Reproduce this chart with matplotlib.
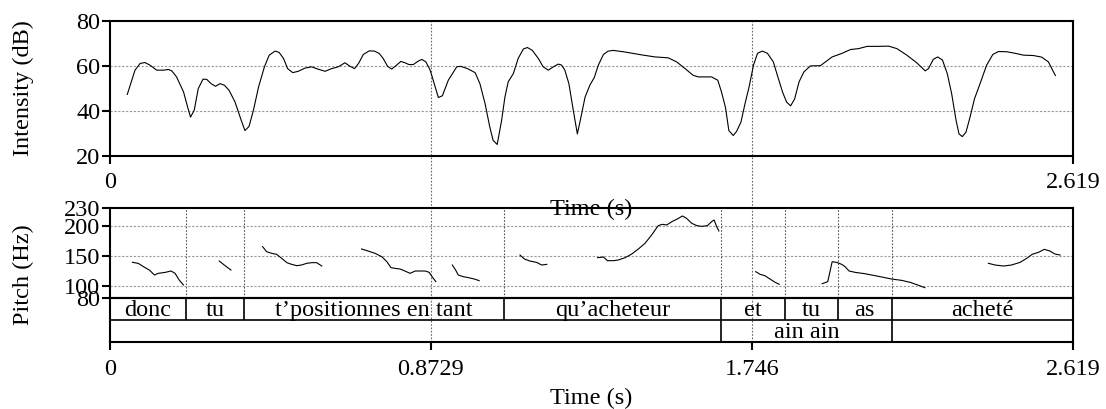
import matplotlib
matplotlib.use("Agg")
import matplotlib.pyplot as plt

W, H = 1106, 409

# intensity contour (s, dB)
intensity_time = [0.047, 0.068, 0.082, 0.095, 0.109, 0.127, 0.145, 0.159, 0.168, 0.181,
                  0.200, 0.211, 0.219, 0.229, 0.240, 0.253, 0.263, 0.275, 0.287, 0.299,
                  0.311, 0.324, 0.340, 0.357, 0.367, 0.378, 0.390, 0.404, 0.420, 0.433,
                  0.449, 0.460, 0.472, 0.483, 0.497, 0.512, 0.530, 0.548, 0.567, 0.585,
                  0.603, 0.621, 0.639, 0.653, 0.665, 0.676, 0.689, 0.705, 0.719, 0.732,
                  0.743, 0.755, 0.766, 0.777, 0.791, 0.802, 0.813, 0.825, 0.837, 0.848,
                  0.859, 0.870, 0.875, 0.893, 0.904, 0.920, 0.943, 0.954, 0.972, 0.993,
                  1.006, 1.020, 1.033, 1.042, 1.053, 1.065, 1.074, 1.083, 1.097, 1.110,
                  1.124, 1.135, 1.148, 1.165, 1.178, 1.192, 1.206, 1.219, 1.228, 1.237,
                  1.248, 1.260, 1.271, 1.280, 1.292, 1.305, 1.317, 1.328, 1.342, 1.355,
                  1.369, 1.400, 1.446, 1.482, 1.518, 1.541, 1.564, 1.586, 1.600, 1.618,
                  1.636, 1.653, 1.663, 1.674, 1.683, 1.695, 1.704, 1.716, 1.727, 1.738,
                  1.750, 1.761, 1.774, 1.788, 1.804, 1.815, 1.829, 1.840, 1.851, 1.862,
                  1.874, 1.887, 1.905, 1.932, 1.964, 1.991, 2.014, 2.036, 2.059, 2.087,
                  2.118, 2.140, 2.167, 2.194, 2.217, 2.226, 2.239, 2.251, 2.264, 2.277,
                  2.289, 2.301, 2.309, 2.318, 2.328, 2.339, 2.351, 2.368, 2.384, 2.401,
                  2.416, 2.439, 2.462, 2.484, 2.512, 2.534, 2.552, 2.571]
intensity_db = [47.3, 58.1, 61.1, 61.5, 60.3, 58.1, 58.1, 58.4, 57.8, 55.1,
                48.4, 41.7, 37.2, 40.2, 49.9, 54.1, 54.0, 52.1, 50.9, 52.1,
                51.4, 49.1, 43.9, 35.7, 31.2, 33.0, 40.2, 50.6, 59.6, 64.8,
                66.6, 66.0, 63.3, 58.8, 57.0, 57.6, 59.0, 59.6, 58.5, 57.6,
                58.8, 59.6, 61.4, 59.8, 58.8, 61.1, 65.1, 66.7, 66.6, 65.6,
                63.3, 59.8, 58.6, 60.0, 62.0, 61.4, 60.6, 60.6, 62.0, 62.9,
                61.8, 58.4, 55.8, 45.9, 46.7, 53.6, 59.6, 59.8, 58.8, 57.0,
                52.1, 43.2, 32.7, 26.8, 25.0, 35.7, 46.1, 52.9, 56.6, 63.3,
                67.5, 68.2, 67.0, 63.3, 59.6, 58.1, 59.6, 60.8, 60.4, 58.1,
                52.1, 40.2, 29.7, 36.5, 46.1, 51.4, 54.8, 60.3, 65.1, 66.6,
                66.9, 66.2, 64.9, 64.0, 63.6, 61.8, 58.8, 55.8, 55.1, 55.1,
                55.1, 53.6, 48.4, 41.4, 31.2, 29.0, 30.8, 35.0, 43.2, 50.6,
                60.3, 65.6, 66.6, 65.6, 61.8, 55.8, 48.4, 43.9, 42.2, 45.3,
                52.9, 57.3, 60.0, 60.1, 64.0, 65.6, 67.3, 67.7, 68.7, 68.7,
                68.8, 67.7, 64.8, 61.4, 57.8, 58.8, 62.9, 64.0, 62.6, 56.6,
                47.6, 35.7, 29.7, 28.5, 30.5, 37.2, 45.3, 52.9, 60.3, 65.1,
                66.4, 66.3, 65.6, 64.8, 64.6, 63.9, 61.8, 55.7]

# pitch contour, one list per voiced stretch (s, Hz)
pitch_seg_time = [
    [0.061, 0.077, 0.091, 0.107, 0.121, 0.131, 0.150, 0.166, 0.177, 0.188, 0.200],
    [0.297, 0.313, 0.329],
    [0.415, 0.426, 0.440, 0.453, 0.467, 0.481, 0.494, 0.508, 0.521, 0.535, 0.549, 0.562, 0.576],
    [0.684, 0.702, 0.721, 0.739, 0.753, 0.764, 0.775, 0.789, 0.802, 0.816, 0.830, 0.843,
     0.857, 0.868, 0.877, 0.886],
    [0.931, 0.940, 0.947, 0.961, 0.975, 0.991, 1.004],
    [1.115, 1.127, 1.142, 1.160, 1.174, 1.188],
    [1.326, 1.342, 1.353, 1.369, 1.382, 1.401, 1.419, 1.437, 1.455, 1.473, 1.491, 1.502,
     1.514, 1.528, 1.543, 1.557, 1.568, 1.582, 1.596, 1.609, 1.625, 1.636, 1.643, 1.650, 1.656],
    [1.756, 1.768, 1.781, 1.795, 1.809, 1.820],
    [1.937, 1.952, 1.964, 1.976, 1.990, 1.999, 2.010, 2.026, 2.053, 2.090, 2.126, 2.153,
     2.176, 2.197, 2.216],
    [2.389, 2.407, 2.430, 2.452, 2.475, 2.493, 2.508, 2.525, 2.541, 2.556, 2.570, 2.584],
]
pitch_seg_hz = [
    [139.0, 137.2, 131.7, 126.1, 117.8, 120.6, 122.2, 124.5, 120.6, 109.5, 101.1],
    [141.1, 133.4, 126.1],
    [165.1, 156.7, 153.9, 152.3, 145.6, 138.4, 135.6, 133.4, 134.5, 137.3, 138.4, 138.4, 132.8],
    [161.2, 157.8, 153.9, 148.4, 140.0, 130.1, 128.9, 127.8, 124.5, 120.6, 124.5, 124.5,
     124.5, 122.3, 114.0, 107.0],
    [134.5, 126.1, 117.8, 115.0, 113.4, 111.1, 108.4],
    [151.1, 144.5, 141.1, 138.9, 134.5, 135.6],
    [146.7, 147.8, 141.7, 141.7, 142.8, 146.7, 152.8, 161.2, 170.6, 184.5, 200.1, 202.3,
     201.2, 206.7, 211.2, 216.2, 212.3, 204.0, 200.1, 198.9, 200.1, 206.7, 209.5, 198.4, 191.2],
    [123.4, 119.0, 116.7, 111.1, 105.6, 102.3],
    [103.4, 106.7, 140.0, 138.9, 135.6, 131.7, 124.5, 122.3, 120.0, 115.6, 111.1, 108.9,
     105.6, 101.1, 96.7],
    [137.3, 134.5, 132.8, 134.5, 138.9, 145.6, 152.3, 155.6, 160.6, 157.8, 152.8, 151.1],
]

# text grid
word_bounds = [0, 0.206, 0.365, 1.072, 1.662, 1.836, 1.979, 2.126, 2.619]
word_labels = ["donc", "tu", "t\u2019positionnes en tant", "qu\u2019acheteur",
               "et", "tu", "as", "achet\u00e9"]
tier2_bounds = [0, 1.662, 2.126, 2.619]
tier2_labels = ["", "ain ain", ""]

t_end = 2.619
mid_marks = [0.8729, 1.746]

plt.rcParams["font.family"] = ["Liberation Serif", "DejaVu Serif"]
plt.rcParams["font.size"] = 17.5


def rect(x0, y0, x1, y1):
    return [x0 / W, 1 - y1 / H, (x1 - x0) / W, (y1 - y0) / H]


def style_box(ax):
    ax.set_facecolor("none")
    for s in ax.spines.values():
        s.set_linewidth(1.5)
    ax.tick_params(direction="out", length=6, width=1.5)


fig = plt.figure(figsize=(W / 100, H / 100), dpi=100)

X0, X1 = 110, 1073

# background axis for the long dotted time marks
ax_bg = fig.add_axes(rect(X0, 21, X1, 342.3))
ax_bg.set_xlim(0, t_end)
ax_bg.set_ylim(0, 1)
ax_bg.axis("off")
for m in mid_marks:
    ax_bg.axvline(m, color="#666666", lw=0.8, ls=(0, (1.5, 1.5)))

# intensity panel
ax_int = fig.add_axes(rect(X0, 21, X1, 155.7))
style_box(ax_int)
ax_int.set_xlim(0, t_end)
ax_int.set_ylim(20, 80)
for g in [40, 60]:
    ax_int.axhline(g, color="#999999", lw=0.8, ls=(0, (2, 1.5)))
ax_int.plot(intensity_time, intensity_db, color="black", lw=0.8)
ax_int.set_yticks([20, 40, 60, 80])
ax_int.set_xticks([0, t_end], ["0", "2.619"])
ax_int.tick_params(axis="y", pad=1)
ax_int.tick_params(axis="x", pad=6)
ax_int.set_xlabel("Time (s)", labelpad=4)

# pitch panel
ax_p = fig.add_axes(rect(X0, 207.7, X1, 297.7))
style_box(ax_p)
ax_p.set_xlim(0, t_end)
ax_p.set_ylim(80, 230)
for g in [100, 150, 200]:
    ax_p.axhline(g, color="#999999", lw=0.8, ls=(0, (2, 1.5)))
ax_p.vlines(word_bounds[1:-1], 80, 230, color="#555555", lw=0.8, ls=(0, (1.5, 1.5)))
for ts, hz in zip(pitch_seg_time, pitch_seg_hz):
    ax_p.plot(ts, hz, color="black", lw=0.8)
ax_p.set_yticks([80, 100, 150, 200, 230])
ax_p.set_xticks([])
ax_p.tick_params(axis="y", pad=1)

# text tiers
ax_t = fig.add_axes(rect(X0, 297.7, X1, 342.3))
style_box(ax_t)
ax_t.set_xlim(0, t_end)
ax_t.set_ylim(0, 2)
ax_t.set_yticks([])
ax_t.axhline(1, color="black", lw=1.2)
ax_t.vlines(word_bounds[1:-1], 1, 2, color="black", lw=1.2)
ax_t.vlines(tier2_bounds[1:-1], 0, 1, color="black", lw=1.2)
for a, b, lab in zip(word_bounds[:-1], word_bounds[1:], word_labels):
    ax_t.text((a + b) / 2, 1.19, lab, ha="center", va="baseline")
for a, b, lab in zip(tier2_bounds[:-1], tier2_bounds[1:], tier2_labels):
    ax_t.text((a + b) / 2, 0.18, lab, ha="center", va="baseline")
ax_t.set_xticks([0, mid_marks[0], mid_marks[1], t_end], ["0", "0.8729", "1.746", "2.619"])
ax_t.tick_params(axis="x", pad=6)
ax_t.set_xlabel("Time (s)", labelpad=6)

fig.text(23 / W, 1 - 88.4 / H, "Intensity (dB)", rotation=90, ha="center", va="center")
fig.text(23 / W, 1 - 275 / H, "Pitch (Hz)", rotation=90, ha="center", va="center")

fig.savefig("out.png", dpi=100)
